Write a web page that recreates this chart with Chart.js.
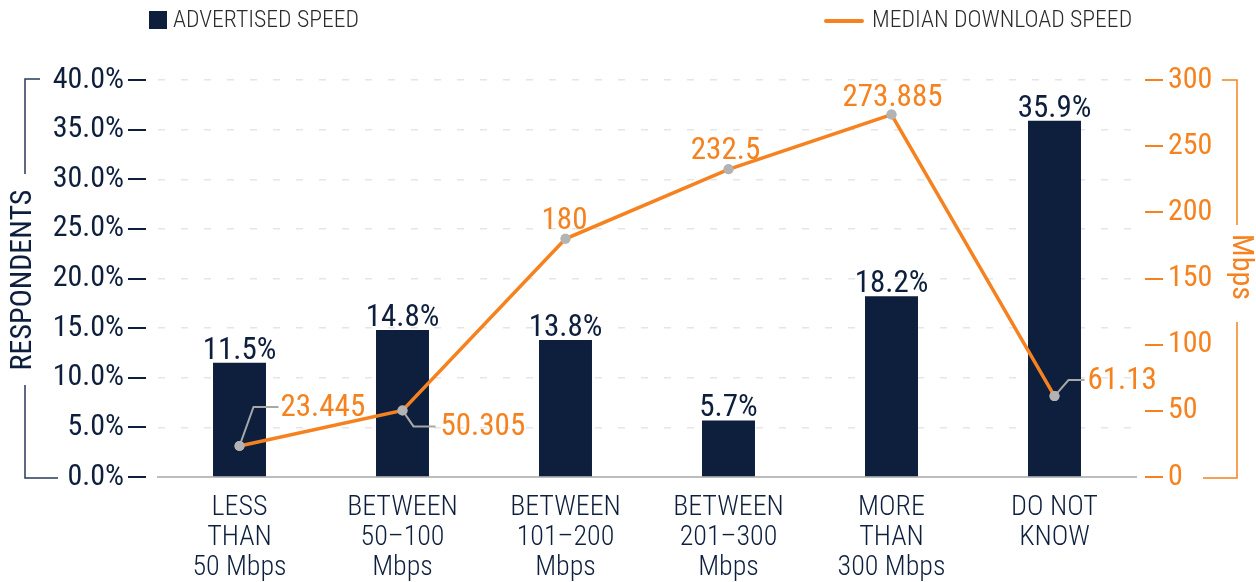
<!DOCTYPE html>
<html>
<head>
<meta charset="utf-8">
<script src="https://cdn.jsdelivr.net/npm/chart.js@4.4.1/dist/chart.umd.min.js"></script>
<style>
  html, body { margin: 0; padding: 0; background: #fff; }
  #wrap { width: 1256px; height: 582px; position: relative; }
</style>
</head>
<body>
<div id="wrap"><canvas id="c" width="1256" height="582"></canvas></div>
<script>
const categories = [
  ["LESS", "THAN", "50 Mbps"],
  ["BETWEEN", "50\u2013100", "Mbps"],
  ["BETWEEN", "101\u2013200", "Mbps"],
  ["BETWEEN", "201\u2013300", "Mbps"],
  ["MORE", "THAN", "300 Mbps"],
  ["DO NOT", "KNOW"]
];
const advertisedSpeed = [11.5, 14.8, 13.8, 5.7, 18.2, 35.9];
const medianDownload = [23.445, 50.305, 180, 232.5, 273.885, 61.13];
const leftTicks = [0, 5, 10, 15, 20, 25, 30, 35, 40];
const rightTicks = [0, 50, 100, 150, 200, 250, 300];
const seriesNames = ["ADVERTISED SPEED", "MEDIAN DOWNLOAD SPEED"];
const axisTitles = ["RESPONDENTS", "Mbps"];

const NAVY = '#0e1f3e';
const ORANGE = '#f5821f';
const FONT = "'Roboto Condensed', Roboto, sans-serif";

// label placement styles for the line labels (offsets from the point)
const lineLabelStyle = [
  { mode: 'leader', lx: 14, ly: -39, hx: 39, tx: 41 },
  { mode: 'leader', lx: 11, ly: 16, hx: 33, tx: 38 },
  { mode: 'above', dx: -1, dy: -10 },
  { mode: 'above', dx: -3, dy: -10 },
  { mode: 'above', dx: 1, dy: -9 },
  { mode: 'leader', lx: 14, ly: -16, hx: 30, tx: 33 }
];

const customPlugin = {
  id: 'customDraw',
  afterDraw(chart) {
    const ctx = chart.ctx;
    const y = chart.scales.y, y1 = chart.scales.y1;
    ctx.save();
    // tick marks
    ctx.lineWidth = 2;
    ctx.strokeStyle = NAVY;
    leftTicks.forEach(v => {
      const py = Math.round(y.getPixelForValue(v));
      ctx.beginPath(); ctx.moveTo(128, py); ctx.lineTo(146, py); ctx.stroke();
    });
    ctx.strokeStyle = ORANGE;
    rightTicks.forEach(v => {
      const py = Math.round(y1.getPixelForValue(v));
      ctx.beginPath(); ctx.moveTo(1145, py); ctx.lineTo(1163, py); ctx.stroke();
    });

    // left bracket + title
    ctx.lineWidth = 1.5;
    ctx.strokeStyle = '#2a3a58';
    ctx.beginPath();
    ctx.moveTo(40, 79); ctx.lineTo(25, 79); ctx.lineTo(25, 174);
    ctx.moveTo(25, 385); ctx.lineTo(25, 478); ctx.lineTo(58, 478);
    ctx.stroke();
    ctx.save();
    ctx.translate(23, 280);
    ctx.rotate(-Math.PI / 2);
    ctx.fillStyle = NAVY;
    ctx.font = `30px ${FONT}`;
    ctx.textAlign = 'center';
    ctx.textBaseline = 'middle';
    ctx.fillText(axisTitles[0], 0, 0);
    ctx.restore();

    // right bracket + title
    ctx.strokeStyle = ORANGE;
    ctx.beginPath();
    ctx.moveTo(1222, 80); ctx.lineTo(1237, 80); ctx.lineTo(1237, 225);
    ctx.moveTo(1237, 322); ctx.lineTo(1237, 478); ctx.lineTo(1203, 478);
    ctx.stroke();
    ctx.save();
    ctx.translate(1240, 267);
    ctx.rotate(Math.PI / 2);
    ctx.fillStyle = ORANGE;
    ctx.font = `30px ${FONT}`;
    ctx.textAlign = 'center';
    ctx.textBaseline = 'middle';
    ctx.fillText(axisTitles[1], 0, 0);
    ctx.restore();

    // legend
    ctx.fillStyle = NAVY;
    ctx.fillRect(149, 11, 18, 18);
    ctx.font = `300 23.7px ${FONT}`;
    ctx.textBaseline = 'middle';
    ctx.textAlign = 'left';
    ctx.fillStyle = '#2b2b2b';
    ctx.fillText(seriesNames[0], 173, 21);
    ctx.strokeStyle = ORANGE;
    ctx.lineWidth = 4;
    ctx.lineCap = 'round';
    ctx.beginPath(); ctx.moveTo(826, 21); ctx.lineTo(862, 21); ctx.stroke();
    ctx.fillText(seriesNames[1], 872, 21);

    // bar labels
    const barMeta = chart.getDatasetMeta(0);
    ctx.font = `31px ${FONT}`;
    ctx.fillStyle = NAVY;
    ctx.textAlign = 'center';
    ctx.textBaseline = 'alphabetic';
    barMeta.data.forEach((el, i) => {
      ctx.fillText(advertisedSpeed[i].toFixed(1) + '%', el.x, el.y - 4);
    });

    // line labels
    const lineMeta = chart.getDatasetMeta(1);
    lineMeta.data.forEach((el, i) => {
      const st = lineLabelStyle[i];
      const txt = String(medianDownload[i]);
      ctx.font = `31px ${FONT}`;
      ctx.fillStyle = ORANGE;
      if (st.mode === 'above') {
        ctx.textAlign = 'center';
        ctx.textBaseline = 'alphabetic';
        ctx.fillText(txt, el.x + st.dx, el.y + st.dy);
      } else {
        ctx.strokeStyle = '#a8a8a8';
        ctx.lineWidth = 2;
        ctx.lineCap = 'butt';
        ctx.beginPath();
        ctx.moveTo(el.x, el.y);
        ctx.lineTo(el.x + st.lx, el.y + st.ly);
        ctx.lineTo(el.x + st.hx, el.y + st.ly);
        ctx.stroke();
        ctx.textAlign = 'left';
        ctx.textBaseline = 'middle';
        ctx.fillText(txt, el.x + st.tx, el.y + st.ly + 1);
      }
    });
    // redraw points above leaders
    lineMeta.data.forEach(el => {
      ctx.fillStyle = '#b3b3b3';
      ctx.beginPath(); ctx.arc(el.x, el.y, 5, 0, Math.PI * 2); ctx.fill();
    });
    ctx.restore();
  }
};

new Chart(document.getElementById('c'), {
  type: 'bar',
  data: {
    labels: categories,
    datasets: [
      {
        type: 'bar',
        label: seriesNames[0],
        data: advertisedSpeed,
        backgroundColor: NAVY,
        yAxisID: 'y',
        barPercentage: 0.325,
        categoryPercentage: 1,
        order: 2
      },
      {
        type: 'line',
        label: seriesNames[1],
        data: medianDownload,
        borderColor: ORANGE,
        borderWidth: 3.5,
        pointRadius: 5,
        pointBackgroundColor: '#b3b3b3',
        pointBorderWidth: 0,
        tension: 0,
        yAxisID: 'y1',
        order: 1
      }
    ]
  },
  options: {
    responsive: false,
    animation: false,
    devicePixelRatio: 1,
    layout: { padding: { top: 80, left: 0, right: 0, bottom: 0 } },
    plugins: { legend: { display: false }, tooltip: { enabled: false } },
    scales: {
      x: {
        grid: { display: false, drawTicks: false },
        border: { display: true, color: '#bdbdbd', width: 2 },
        ticks: { color: NAVY, font: { family: FONT, size: 28, weight: 300, lineHeight: 1.07 }, padding: 16, maxRotation: 0, autoSkip: false },
        afterFit(s) { s.height = 105; }
      },
      y: {
        position: 'left',
        min: 0, max: 40,
        afterBuildTicks(s) { s.ticks = leftTicks.map(v => ({ value: v })); },
        grid: { color: '#e6e6e6', lineWidth: 1.5, drawTicks: false },
        border: { display: false, dash: [7, 16] },
        ticks: { color: NAVY, font: { family: FONT, size: 30 }, padding: 34, callback: v => v.toFixed(1) + '%' },
        afterFit(s) { s.width = 158; }
      },
      y1: {
        position: 'right',
        min: 0, max: 300,
        afterBuildTicks(s) { s.ticks = rightTicks.map(v => ({ value: v })); },
        grid: { display: false, drawTicks: false },
        border: { display: false },
        ticks: { color: ORANGE, font: { family: FONT, size: 30 }, padding: 32, callback: v => String(v) },
        afterFit(s) { s.width = 120; }
      }
    }
  },
  plugins: [customPlugin]
});
</script>
</body>
</html>
